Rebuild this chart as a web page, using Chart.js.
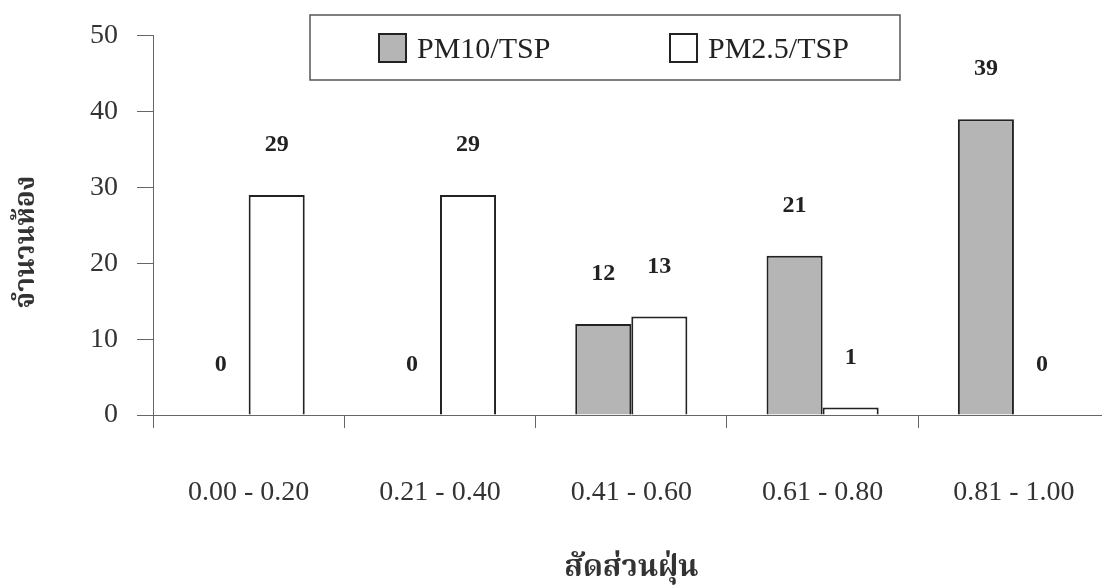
<!DOCTYPE html>
<html>
<head>
<meta charset="utf-8">
<script src="https://cdn.jsdelivr.net/npm/chart.js@4.4.1/dist/chart.umd.min.js"></script>
<style>
  html, body { margin: 0; padding: 0; background: #fff; overflow: hidden; }
  canvas { display: block; }
</style>
</head>
<body>
<canvas id="dustChart" width="1123" height="586"></canvas>
<script>
// data
const categories = ['0.00 - 0.20', '0.21 - 0.40', '0.41 - 0.60', '0.61 - 0.80', '0.81 - 1.00']
const pm10Values = [0, 0, 12, 21, 39]
const pm25Values = [29, 29, 13, 1, 0]
const seriesNames = ['PM10/TSP', 'PM2.5/TSP']
const yTicks = [0, 10, 20, 30, 40, 50]
const xTitle = 'สัดส่วนฝุ่น'
const yTitle = 'จำนวนห้อง'

const serif = "'Liberation Serif', 'Times New Roman', serif"
const thaiFont = "'Liberation Serif', 'Noto Serif Thai', 'Noto Sans Thai', 'Noto Sans', serif"

// numbers above each bar
const valueLabels = {
    id: 'valueLabels',
    afterDatasetsDraw(chart) {
        const ctx = chart.ctx
        ctx.save()
        ctx.font = 'bold 24px ' + serif
        ctx.fillStyle = '#222'
        ctx.textAlign = 'center'
        ctx.textBaseline = 'middle'
        chart.data.datasets.forEach((ds, i) => {
            chart.getDatasetMeta(i).data.forEach((bar, j) => {
                ctx.fillText(String(ds.data[j]), bar.x, bar.y - 50)
            })
        })
        ctx.restore()
    }
}

// rotated y title, sits a bit below the middle of the axis like the original
const yTitleDraw = {
    id: 'yTitleDraw',
    afterDraw(chart) {
        const ctx = chart.ctx
        ctx.save()
        ctx.translate(27, 242)
        ctx.rotate(-Math.PI / 2)
        ctx.font = 'bold 28px ' + thaiFont
        ctx.fillStyle = '#333'
        ctx.textAlign = 'center'
        ctx.textBaseline = 'middle'
        ctx.fillText(yTitle, 0, 0)
        ctx.restore()
    }
}

// boxed legend sitting inside the plot
const boxLegend = {
    id: 'boxLegend',
    afterDraw(chart) {
        const ctx = chart.ctx
        ctx.save()
        ctx.fillStyle = '#fff'
        ctx.fillRect(310, 15, 590, 65)
        ctx.strokeStyle = '#555'
        ctx.lineWidth = 1.5
        ctx.strokeRect(310, 15, 590, 65)
        const spots = [379, 670]
        ctx.font = '30px ' + serif
        ctx.textBaseline = 'middle'
        chart.data.datasets.forEach((ds, i) => {
            const x = spots[i]
            ctx.fillStyle = ds.backgroundColor
            ctx.fillRect(x, 34, 27, 28)
            ctx.strokeStyle = '#222'
            ctx.lineWidth = 2
            ctx.strokeRect(x, 34, 27, 28)
            ctx.fillStyle = '#222'
            ctx.textAlign = 'left'
            ctx.fillText(ds.label, x + 38, 50)
        })
        ctx.restore()
    }
}

const ctx = document.getElementById('dustChart')
new Chart(ctx, {
    type: 'bar',
    data: {
        labels: categories,
        datasets: [
            {
                label: seriesNames[0],
                data: pm10Values,
                backgroundColor: '#b5b5b5',
                borderColor: '#222',
                borderWidth: 2,
                borderSkipped: 'bottom'
            },
            {
                label: seriesNames[1],
                data: pm25Values,
                backgroundColor: '#ffffff',
                borderColor: '#222',
                borderWidth: 2,
                borderSkipped: 'bottom'
            }
        ]
    },
    options: {
        responsive: false,
        animation: false,
        layout: { padding: { left: 10, top: 14, right: 4, bottom: 0 } },
        datasets: {
            bar: { categoryPercentage: 0.586, barPercentage: 1.0 }
        },
        plugins: {
            legend: { display: false },
            tooltip: { enabled: false }
        },
        scales: {
            x: {
                afterFit(scale) {
                    scale.height = 171
                },
                grid: {
                    offset: true,
                    drawOnChartArea: false,
                    tickLength: 13,
                    color: '#666'
                },
                border: { color: '#666', width: 1 },
                ticks: {
                    color: '#333',
                    padding: 48,
                    font: { family: serif, size: 28 }
                },
                title: {
                    display: true,
                    text: xTitle,
                    color: '#333',
                    font: { family: thaiFont, size: 30, weight: 'bold' },
                    padding: { top: 0, bottom: 0 }
                }
            },
            y: {
                min: 0,
                max: 50,
                afterBuildTicks(scale) {
                    scale.ticks = yTicks.map(v => ({ value: v }))
                },
                afterFit(scale) {
                    scale.width = 143
                },
                grid: {
                    drawOnChartArea: false,
                    tickLength: 16,
                    color: '#666'
                },
                border: { color: '#666', width: 1 },
                ticks: {
                    color: '#333',
                    padding: 19,
                    font: { family: serif, size: 28 }
                }
            }
        }
    },
    plugins: [valueLabels, yTitleDraw, boxLegend]
})
</script>
</body>
</html>
